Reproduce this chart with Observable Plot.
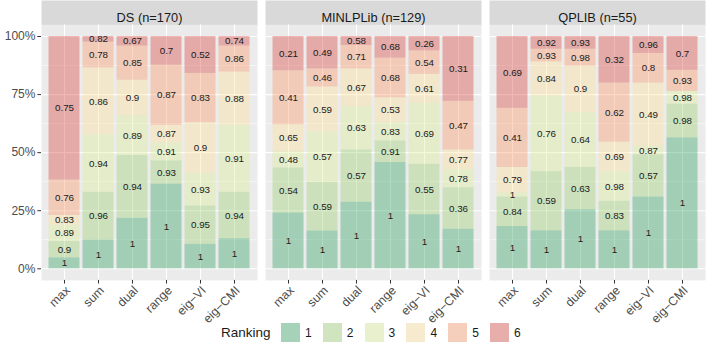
<!DOCTYPE html>
<html>
<head>
<meta charset="utf-8">
<script src="https://cdn.jsdelivr.net/npm/d3@7"></script>
<script src="https://cdn.jsdelivr.net/npm/@observablehq/plot@0.6"></script>
<style>
  body { margin: 0; background: white; font-family: "Liberation Sans", Arial, sans-serif; }
  #wrap { width: 706px; height: 353px; position: relative; overflow: hidden; }
  #legend { position: absolute; left: 221px; top: 323px; display: flex; align-items: center; height: 19px; }
  #legend .title { font-size: 13.5px; color: #1a1a1a; width: 60px; }
  #legend .item { display: flex; align-items: center; width: 41.8px; }
  #legend .key { width: 19px; height: 19px; background: #f2f2f2; position: relative; }
  #legend .key div { position: absolute; inset: 0; }
  #legend .lab { font-size: 12px; color: #1a1a1a; margin-left: 5px; }
</style>
</head>
<body>
<div id="wrap"><div id="chart"></div><div id="legend"></div></div>
<script>
// ---- data ----
const facets = ["DS", "MINLPLib", "QPLIB"];
const facetN = [170, 129, 55];
const methods = ["max", "sum", "dual", "range", "eig\u2212VI", "eig\u2212CMI"];
const ranks = [1, 2, 3, 4, 5, 6];
const palette = ["#1a9850", "#91cf60", "#d9ef8b", "#fee08b", "#fc8d59", "#d73027"];

// counts per method (rows) and rank 1..6 (columns)
const dsCounts = [
  [8, 12, 12, 7, 26, 105],
  [21, 35, 42, 49, 19, 4],
  [37, 46, 29, 26, 25, 7],
  [62, 17, 13, 13, 44, 21],
  [18, 28, 24, 37, 36, 27],
  [22, 34, 49, 39, 19, 7]
];
const minlpCounts = [
  [31, 25, 9, 15, 30, 19],
  [21, 27, 28, 25, 10, 18],
  [37, 29, 24, 21, 13, 5],
  [59, 12, 10, 14, 22, 12],
  [30, 28, 34, 16, 13, 8],
  [22, 23, 10, 11, 27, 36]
];
const qplibCounts = [
  [10, 7, 1, 6, 14, 17],
  [9, 14, 18, 8, 3, 3],
  [14, 10, 13, 11, 4, 3],
  [9, 7, 7, 7, 14, 11],
  [17, 10, 2, 15, 7, 4],
  [31, 8, 3, 0, 5, 8]
];
// numbers printed inside the segments
const dsLabels = [
  [1, 0.9, 0.89, 0.83, 0.76, 0.75],
  [1, 0.96, 0.94, 0.86, 0.78, 0.82],
  [1, 0.94, 0.89, 0.9, 0.85, 0.67],
  [1, 0.93, 0.91, 0.87, 0.87, 0.7],
  [1, 0.95, 0.93, 0.9, 0.83, 0.52],
  [1, 0.94, 0.91, 0.88, 0.86, 0.74]
];
const minlpLabels = [
  [1, 0.54, 0.48, 0.65, 0.41, 0.21],
  [1, 0.59, 0.57, 0.59, 0.46, 0.49],
  [1, 0.57, 0.63, 0.67, 0.71, 0.58],
  [1, 0.91, 0.83, 0.53, 0.68, 0.68],
  [1, 0.55, 0.69, 0.61, 0.54, 0.26],
  [1, 0.36, 0.78, 0.77, 0.47, 0.31]
];
const qplibLabels = [
  [1, 0.84, 1, 0.79, 0.41, 0.69],
  [1, 0.59, 0.76, 0.84, 0.93, 0.92],
  [1, 0.63, 0.64, 0.9, 0.98, 0.93],
  [1, 0.83, 0.98, 0.69, 0.62, 0.32],
  [1, 0.57, 0.87, 0.49, 0.8, 0.96],
  [1, 0.98, 0.98, null, 0.93, 0.7]
];
const yMajor = [0, 0.25, 0.5, 0.75, 1];
const yMinor = [0.125, 0.375, 0.625, 0.875];

// ---- build table ----
const allCounts = [dsCounts, minlpCounts, qplibCounts];
const allLabels = [dsLabels, minlpLabels, qplibLabels];
const data = [];
facets.forEach((f, fi) => methods.forEach((m, mi) => ranks.forEach((r, ri) => {
  data.push({facet: f, method: m, rank: r, count: allCounts[fi][mi][ri], label: allLabels[fi][mi][ri]});
})));
const strips = facets.map((f, i) => ({facet: f, label: `${f} (n=${facetN[i]})`}));

const font = "'Liberation Sans', Arial, sans-serif";
const plot = Plot.plot({
  width: 706,
  height: 322,
  marginLeft: 39.5,
  marginRight: 0.3,
  marginTop: 24.4,
  marginBottom: 42.1,
  style: {fontFamily: font, fontSize: "11.7px", color: "#4d4d4d", background: "white", overflow: "visible"},
  fx: {domain: facets, paddingInner: 0.036, paddingOuter: 0, axis: null, label: null},
  x: {domain: methods, paddingInner: 0.1, paddingOuter: 0.15, label: null, axis: null},
  y: {domain: [-0.05, 1.05], label: null, axis: null},
  color: {type: "ordinal", domain: ranks, range: palette},
  marks: [
    Plot.frame({fill: "#ebebeb"}),
    Plot.frame({fill: "#d9d9d9", insetTop: -24.4, insetBottom: 255.5}),
    Plot.text(strips, {fx: "facet", text: "label", frameAnchor: "top", dy: -12.2, fontSize: 12.8, fill: "#1a1a1a"}),
    Plot.gridY(yMinor, {stroke: "white", strokeOpacity: 1, strokeWidth: 0.55}),
    Plot.gridY(yMajor, {stroke: "white", strokeOpacity: 1, strokeWidth: 1.1}),
    Plot.gridX(methods, {stroke: "white", strokeOpacity: 1, strokeWidth: 1.1}),
    Plot.barY(data, Plot.stackY({x: "method", y: "count", fx: "facet", fill: "rank", z: "rank", offset: "normalize", fillOpacity: 0.35})),
    Plot.text(data.filter(d => d.count > 0), Plot.stackY({
      x: "method", y: "count", fx: "facet", z: "rank", offset: "normalize",
      text: d => String(d.label), fill: "#1a1a1a", fontSize: 9.8
    })),
    Plot.axisY(yMajor, {tickFormat: d => Math.round(d * 100) + "%", tickSize: 3.67, tickPadding: 2.4, stroke: "#333333", fill: "#4d4d4d", fontSize: 12, label: null}),
    // tick marks
    Plot.axisX(methods, {tickSize: 3.67, tickFormat: () => "", stroke: "#333333", label: null}),
    // rotated tick labels
    Plot.axisX(methods, {tickRotate: -45, tickSize: 0, tickPadding: 4.5, dx: 3.5, dy: 3.5, fill: "#4d4d4d", fontSize: 12.3, label: null})
  ]
});
document.getElementById("chart").appendChild(plot);

// ---- legend from the plot's colour scale ----
const cs = plot.scale("color");
const legend = document.getElementById("legend");
const title = document.createElement("div");
title.className = "title";
title.textContent = "Ranking";
legend.appendChild(title);
cs.domain.forEach((r, i) => {
  const item = document.createElement("div");
  item.className = "item";
  const key = document.createElement("div");
  key.className = "key";
  const inner = document.createElement("div");
  inner.style.background = cs.range[i];
  inner.style.opacity = 0.35;
  key.appendChild(inner);
  const lab = document.createElement("div");
  lab.className = "lab";
  lab.textContent = r;
  item.appendChild(key);
  item.appendChild(lab);
  legend.appendChild(item);
});
</script>
</body>
</html>
